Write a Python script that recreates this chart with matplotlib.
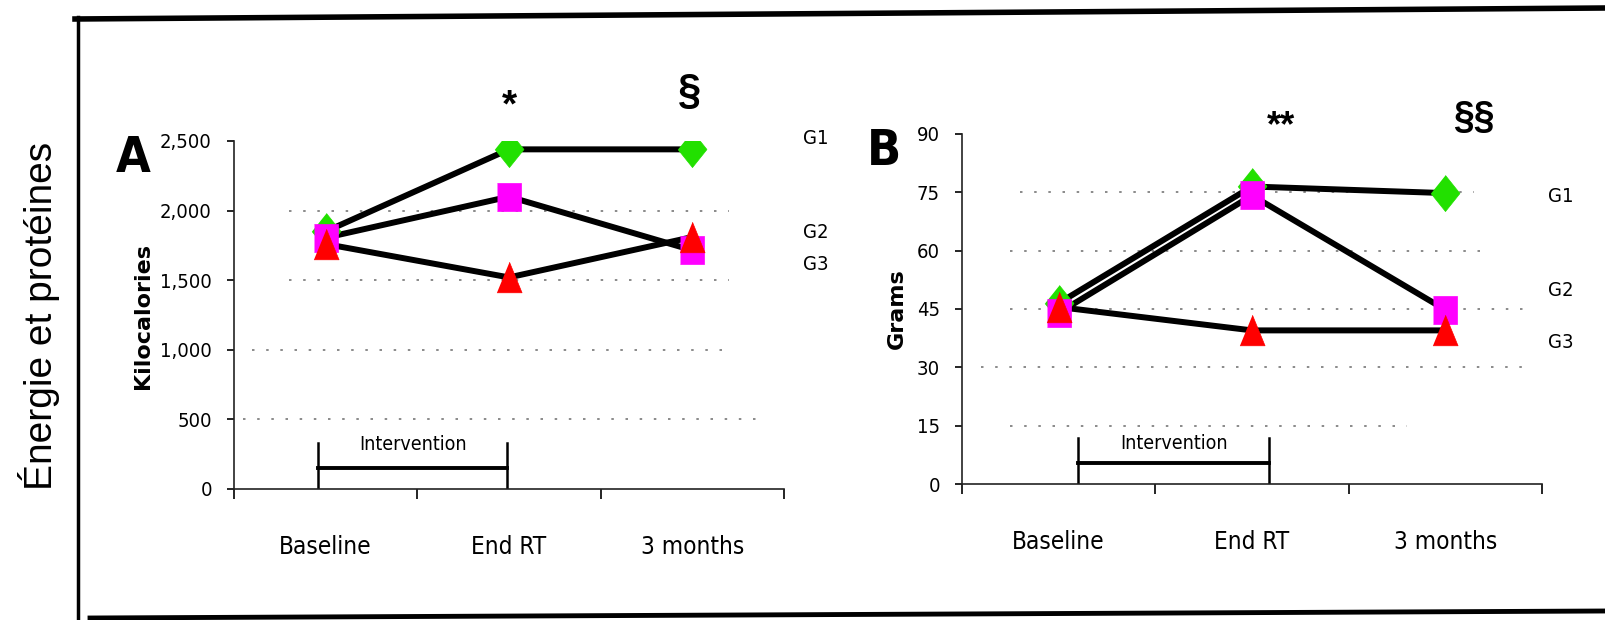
import os
import matplotlib
matplotlib.use('Agg')
import matplotlib.pyplot as plt
from matplotlib import font_manager
from matplotlib.font_manager import FontProperties
from matplotlib.lines import Line2D

# ==========================================
# 数据
# ==========================================
categories = ['Baseline', 'End RT', '3 months']
groups = ['G1', 'G2', 'G3']

kcal_g1 = [1850, 2440, 2440]
kcal_g2 = [1805, 2100, 1715]
kcal_g3 = [1760, 1520, 1810]

grams_g1 = [46.5, 76.5, 74.8]
grams_g2 = [44.0, 74.2, 44.8]
grams_g3 = [45.5, 39.5, 39.5]

kcal_ticks = [0, 500, 1000, 1500, 2000, 2500]
kcal_ticklabels = ['0', '500', '1,000', '1,500', '2,000', '2,500']
grams_ticks = [0, 15, 30, 45, 60, 75, 90]


# 找一个窄体字体（扫描图里是 Helvetica Narrow 一类）
def find_condensed(bold):
    for f in font_manager.fontManager.ttflist:
        fn = os.path.basename(f.fname).lower()
        nm = f.name.lower()
        cond = ('narrow' in nm or 'condensed' in nm or 'narrow' in fn or 'condensed' in fn)
        if not cond or 'semicondensed' in fn or 'extracondensed' in fn:
            continue
        if 'mono' in fn or 'serif' in fn or 'italic' in fn or f.style != 'normal':
            continue
        w = f.weight if isinstance(f.weight, int) else font_manager.weight_dict.get(f.weight, 400)
        if (bold and w == 700) or (not bold and w == 400):
            return f.fname
    return None


def fprop(size, bold=False):
    path = find_condensed(bold)
    if path:
        fp = FontProperties(fname=path)
    else:
        fp = FontProperties(family='Liberation Sans', weight='bold' if bold else 'normal')
    fp.set_size(size)
    return fp


colors = ['#22e000', '#ff00ff', '#ff0000']
diamond = [(0, 1), (0.8, 0), (0, -1), (-0.8, 0)]
square = [(-0.85, -1), (0.85, -1), (0.85, 1), (-0.85, 1)]
triangle = [(0, 1), (0.82, -1), (-0.82, -1)]
markers = [diamond, square, triangle]
msizes = [26, 20, 22]

W, H = 1605, 620
fig = plt.figure(figsize=(W / 100, H / 100), dpi=100)


def px_axes(x0, x1, y_top, y_bot):
    return fig.add_axes([x0 / W, 1 - y_bot / H, (x1 - x0) / W, (y_bot - y_top) / H])


def setup(ax, ymax, yticks, ylabels, grid_vals, grid_span):
    ax.set_xlim(0.5, 3.5)
    ax.set_ylim(0, ymax)
    for s in ['top', 'right']:
        ax.spines[s].set_visible(False)
    for s in ['left', 'bottom']:
        ax.spines[s].set_linewidth(1.2)
        ax.spines[s].set_color('#222222')
    ax.set_yticks(yticks)
    ax.set_yticklabels(ylabels)
    for lab in ax.get_yticklabels():
        lab.set_fontproperties(fprop(14.5))
    ax.tick_params(axis='y', direction='out', length=5, width=1.2, pad=11)
    ax.set_xticks([0.5, 1.5, 2.5, 3.5])
    ax.set_xticklabels([])
    ax.set_xticks([1, 2, 3], minor=True)
    ax.set_xticklabels(categories, minor=True)
    for lab in ax.get_xticklabels(minor=True):
        lab.set_fontproperties(fprop(17.5))
    ax.tick_params(axis='x', which='major', direction='out', length=7, width=1.2)
    ax.tick_params(axis='x', which='minor', length=0, pad=33)
    for v, (a, b) in zip(grid_vals, grid_span):
        ax.hlines(v, a, b, colors='#777777', linestyles=(0, (1.5, 7)), linewidth=1.2, zorder=1)


def draw(ax, series):
    x = [1, 2, 3]
    for vals in series:
        ax.plot(x, vals, color='black', linewidth=4.3, zorder=2, solid_capstyle='round')
    for vals, c, m, ms in zip(series, colors, markers, msizes):
        ax.plot(x, vals, linestyle='none', marker=m, markersize=ms,
                markerfacecolor=c, markeredgecolor=c, markeredgewidth=0.5, zorder=3)


def bracket(ax, x0, x1, y_bar, y_top, y_text):
    ax.plot([x0, x1], [y_bar, y_bar], color='black', linewidth=2.8, zorder=2)
    ax.plot([x0, x0], [0, y_top], color='black', linewidth=1.8, zorder=2)
    ax.plot([x1, x1], [0, y_top], color='black', linewidth=1.8, zorder=2)
    ax.text((x0 + x1) / 2, y_text, 'Intervention', ha='center', va='center',
            fontproperties=fprop(14))


# ---------- A ----------
axA = px_axes(234, 784, 141, 489)
setup(axA, 2500, kcal_ticks, kcal_ticklabels, [500, 1000, 1500, 2000],
      [(0.55, 3.35), (0.6, 3.2), (0.8, 3.2), (0.8, 3.2)])
draw(axA, [kcal_g1, kcal_g2, kcal_g3])
bracket(axA, 0.96, 1.99, 150, 330, 318)

# ---------- B ----------
axB = px_axes(962, 1542, 134, 484)
setup(axB, 90, grams_ticks, [str(t) for t in grams_ticks],
      [15, 30, 45, 60, 75], [(0.75, 2.8), (0.6, 3.4), (0.75, 3.4), (0.75, 3.2), (0.8, 3.15)])
draw(axB, [grams_g1, grams_g2, grams_g3])
bracket(axB, 1.1, 2.09, 5.4, 11.8, 10.3)

# 轴标题
fig.text(143 / W, 1 - 316 / H, 'Kilocalories', rotation=90, ha='center', va='center',
         fontfamily='DejaVu Sans', fontweight='bold', fontsize=16)
fig.text(897 / W, 1 - 309 / H, 'Grams', rotation=90, ha='center', va='center',
         fontfamily='DejaVu Sans', fontweight='bold', fontsize=16)

# 面板字母
fig.text(133 / W, 1 - 158 / H, 'A', ha='center', va='center', fontproperties=fprop(36, True))
fig.text(884 / W, 1 - 151 / H, 'B', ha='center', va='center', fontproperties=fprop(36, True))

# 显著性标记
fig.text(509 / W, 1 - 106 / H, '*', ha='center', va='center', fontfamily='Liberation Sans',
         fontweight='bold', fontsize=28)
fig.text(690 / W, 1 - 92 / H, '§', ha='center', va='center', fontfamily='Liberation Sans',
         fontweight='bold', fontsize=30)
fig.text(1281 / W, 1 - 127 / H, '**', ha='center', va='center', fontfamily='Liberation Sans',
         fontweight='bold', fontsize=26)
fig.text(1474 / W, 1 - 118 / H, '§§', ha='center', va='center', fontfamily='Liberation Sans',
         fontweight='bold', fontsize=27)

# 组标签
for g, y in zip(groups, [138, 233, 264]):
    fig.text(816 / W, 1 - y / H, g, ha='center', va='center', fontproperties=fprop(14.5))
for g, y in zip(groups, [197, 290, 343]):
    fig.text(1561 / W, 1 - y / H, g, ha='center', va='center', fontproperties=fprop(14.5))

# 左侧竖排标题
fig.text(39 / W, 1 - 316 / H, 'Énergie et protéines', rotation=90, ha='center', va='center',
         fontfamily='Liberation Sans', fontsize=28)

# 外框（扫描件略有倾斜）
fig.add_artist(Line2D([75 / W, 1.0], [1 - 19 / H, 1 - 8 / H], color='black', linewidth=4,
                      transform=fig.transFigure))
fig.add_artist(Line2D([78 / W, 78 / W], [1 - 17 / H, 0], color='black', linewidth=2.5,
                      transform=fig.transFigure))
fig.add_artist(Line2D([90 / W, 1.0], [1 - 618 / H, 1 - 611 / H], color='black', linewidth=3.5,
                      transform=fig.transFigure))

fig.savefig('out.png', dpi=100)
